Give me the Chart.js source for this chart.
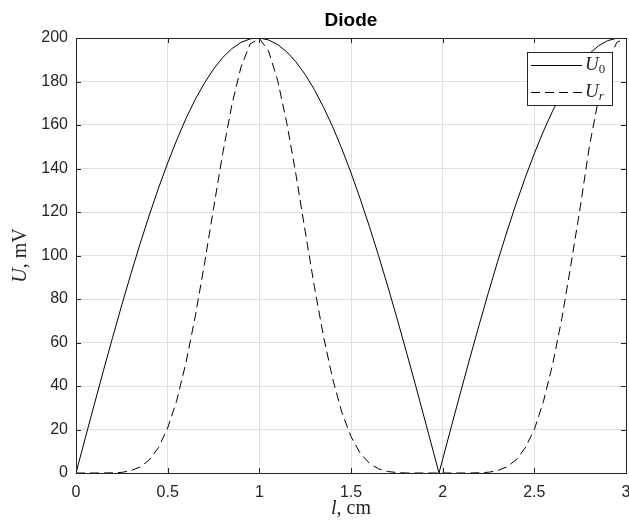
<!DOCTYPE html>
<html>
<head>
<meta charset="utf-8">
<title>Diode</title>
<script src="https://cdn.jsdelivr.net/npm/chart.js@4.4.0/dist/chart.umd.min.js"></script>
<style>
  html, body { margin: 0; padding: 0; background: #fff; }
  #wrap { width: 629px; height: 522px; }
</style>
</head>
<body>
<div id="wrap"><canvas id="diodeChart" width="629" height="522"></canvas></div>
<script>
// values
const lValues = [0, 0.05, 0.1, 0.15, 0.2, 0.25, 0.3, 0.35, 0.4, 0.45, 0.5, 0.55, 0.6, 0.65, 0.7, 0.75, 0.8, 0.85, 0.9, 0.95,
                 1, 1.05, 1.1, 1.15, 1.2, 1.25, 1.3, 1.35, 1.4, 1.45, 1.5, 1.55, 1.6, 1.65, 1.7, 1.75, 1.8, 1.85, 1.9, 1.95,
                 1.98, 2, 2.05, 2.1, 2.15, 2.2, 2.25, 2.3, 2.35, 2.4, 2.45, 2.5, 2.55, 2.6, 2.65, 2.7, 2.75, 2.8, 2.85, 2.9, 2.95, 3];
const u0Values = [0, 15.9, 31.6, 47.2, 62.4, 77.3, 91.7, 105.5, 118.6, 131.0, 142.5, 153.2, 163.0, 171.7, 179.2, 185.7, 191.0, 195.1, 198.0, 199.6,
                  200.0, 199.1, 197.0, 193.6, 189.0, 183.2, 176.3, 168.2, 159.2, 149.1, 138.0, 126.1, 113.4, 100.0, 86.0, 71.4, 56.3, 41.0, 25.3, 9.5,
                  0, 6.3, 22.2, 37.9, 53.3, 68.4, 83.1, 97.3, 110.8, 123.7, 135.7, 146.9, 157.2, 166.5, 174.8, 181.9, 187.9, 192.8, 196.4, 198.8, 199.9, 199.8];
const urValues = [0, 0, 0, 0, 0.1, 0.3, 1.1, 2.8, 6.0, 11.7, 20.7, 33.5, 50.8, 71.8, 95.8, 121.5, 146.8, 169.2, 186.7, 197.3,
                  199.8, 194.1, 180.5, 160.8, 137.1, 111.2, 85.8, 62.8, 43.3, 27.9, 16.7, 9.1, 4.5, 1.9, 0.7, 0.2, 0, 0, 0, 0,
                  0, 0, 0, 0, 0, 0.1, 0.35, 1.1, 2.8, 6.0, 11.5, 20.0, 33.0, 50.0, 71.0, 96.0, 122.0, 150.0, 172.0, 189.0, 198.0, 200.0];
const seriesNames = ['U0', 'Ur'];

const axisColor = '#262626';
const sansFont = "'Liberation Sans', Arial, Helvetica, sans-serif";
const serifFont = "'Liberation Serif', 'Times New Roman', serif";

function toPoints(ys) {
    return lValues.map((l, i) => ({ x: l, y: ys[i] }));
}

// draws text pieces one after another: [text, font, dy]
function drawRun(ctx, pieces, x, y) {
    let cx = x;
    pieces.forEach(p => {
        ctx.font = p[1];
        ctx.fillText(p[0], cx, y + (p[2] || 0));
        cx += ctx.measureText(p[0]).width;
    });
}
function runWidth(ctx, pieces) {
    let w = 0;
    pieces.forEach(p => { ctx.font = p[1]; w += ctx.measureText(p[0]).width; });
    return w;
}

const matlabLook = {
    id: 'matlabLook',
    afterDraw(chart) {
        const ctx = chart.ctx;
        const a = chart.chartArea;
        const xs = chart.scales.x, ys = chart.scales.y;
        ctx.save();

        // box and inward ticks
        ctx.strokeStyle = axisColor;
        ctx.lineWidth = 1;
        ctx.strokeRect(Math.round(a.left) + 0.5, Math.round(a.top) + 0.5, Math.round(a.right - a.left), Math.round(a.bottom - a.top));
        ctx.beginPath();
        xs.ticks.forEach(t => {
            const px = Math.round(xs.getPixelForValue(t.value)) + 0.5;
            ctx.moveTo(px, a.bottom); ctx.lineTo(px, a.bottom - 5);
            ctx.moveTo(px, a.top); ctx.lineTo(px, a.top + 5);
        });
        ys.ticks.forEach(t => {
            const py = Math.round(ys.getPixelForValue(t.value)) + 0.5;
            ctx.moveTo(a.left, py); ctx.lineTo(a.left + 5, py);
            ctx.moveTo(a.right, py); ctx.lineTo(a.right - 5, py);
        });
        ctx.stroke();

        // title
        ctx.fillStyle = '#000';
        ctx.textAlign = 'center';
        ctx.textBaseline = 'middle';
        ctx.font = 'bold 19px ' + sansFont;
        ctx.fillText('Diode', (a.left + a.right) / 2, 21);

        // axis titles
        ctx.fillStyle = axisColor;
        ctx.textAlign = 'left';
        ctx.textBaseline = 'middle';
        const xLabel = [['l', 'italic 20px ' + serifFont], [', cm', '20px ' + serifFont]];
        drawRun(ctx, xLabel, (a.left + a.right) / 2 - runWidth(ctx, xLabel) / 2, 509);

        const yLabel = [['U', 'italic 20px ' + serifFont], [', mV', '20px ' + serifFont]];
        ctx.save();
        ctx.translate(21, (a.top + a.bottom) / 2);
        ctx.rotate(-Math.PI / 2);
        drawRun(ctx, yLabel, -runWidth(ctx, yLabel) / 2, 0);
        ctx.restore();

        // legend
        const lx = 527, ly = 52, lw = 85, lh = 53;
        ctx.fillStyle = '#fff';
        ctx.fillRect(lx, ly, lw, lh);
        ctx.strokeStyle = axisColor;
        ctx.strokeRect(lx + 0.5, ly + 0.5, lw, lh);
        chart.data.datasets.forEach((ds, i) => {
            const rowY = ly + 13 + i * 27;
            ctx.strokeStyle = ds.borderColor;
            ctx.lineWidth = 1;
            ctx.setLineDash(ds.borderDash || []);
            ctx.beginPath();
            ctx.moveTo(lx + 4, rowY + 0.5);
            ctx.lineTo(lx + 55, rowY + 0.5);
            ctx.stroke();
            ctx.setLineDash([]);
            ctx.fillStyle = axisColor;
            const sub = seriesNames[i].slice(1);
            const subFont = (sub === '0' ? '' : 'italic ') + '13px ' + serifFont;
            drawRun(ctx, [['U', 'italic 19px ' + serifFont], [sub, subFont, 5]], lx + 58, rowY);
        });
        ctx.restore();
    }
};

const ctx = document.getElementById('diodeChart').getContext('2d');
new Chart(ctx, {
    type: 'scatter',
    data: {
        datasets: [
            {
                label: seriesNames[0],
                data: toPoints(u0Values),
                showLine: true,
                borderColor: '#000000',
                borderWidth: 1,
                pointRadius: 0,
                tension: 0
            },
            {
                label: seriesNames[1],
                data: toPoints(urValues),
                showLine: true,
                borderColor: '#000000',
                borderWidth: 1,
                borderDash: [9, 5],
                pointRadius: 0,
                tension: 0
            }
        ]
    },
    options: {
        responsive: false,
        animation: false,
        events: [],
        layout: { padding: { top: 38, right: 3, left: 0, bottom: 0 } },
        plugins: {
            legend: { display: false },
            title: { display: false },
            tooltip: { enabled: false }
        },
        scales: {
            x: {
                type: 'linear',
                min: 0,
                max: 3,
                border: { display: false },
                grid: { color: '#e1e1e1', drawTicks: false },
                ticks: {
                    stepSize: 0.5,
                    color: axisColor,
                    padding: 10,
                    maxRotation: 0,
                    font: { family: sansFont, size: 16 },
                    callback: v => String(Math.round(v * 10) / 10)
                },
                afterFit: function(scale) {
                    scale.height = 49;
                    scale.paddingLeft = 0;
                    scale.paddingRight = 0;
                }
            },
            y: {
                type: 'linear',
                min: 0,
                max: 200,
                border: { display: false },
                grid: { color: '#e1e1e1', drawTicks: false },
                ticks: {
                    stepSize: 20,
                    color: axisColor,
                    padding: 8,
                    font: { family: sansFont, size: 16 }
                },
                afterFit: function(scale) {
                    scale.width = 76;
                    scale.paddingTop = 0;
                    scale.paddingBottom = 0;
                }
            }
        }
    },
    plugins: [matlabLook]
});
</script>
</body>
</html>
